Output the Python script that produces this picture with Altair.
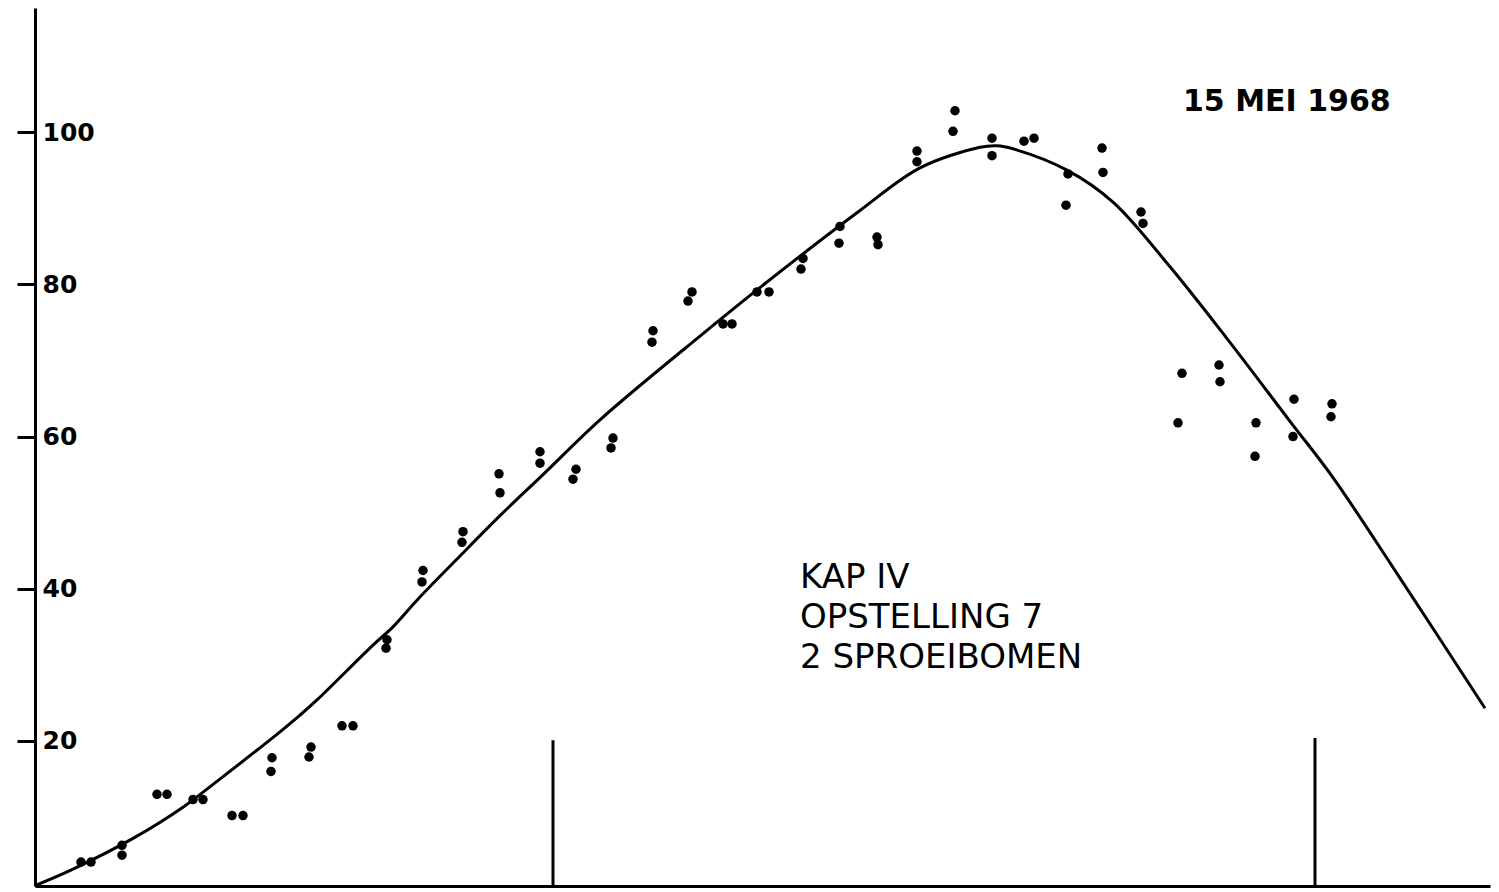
import altair as alt
import pandas as pd

# measured points (pairs of dots), x in arbitrary distance units, y in %
dot_x = [4.6, 5.6, 8.7, 8.7, 12.2, 13.2, 15.8, 16.8, 19.7, 20.8, 23.7, 23.6, 27.6, 27.4,
         30.7, 31.8, 35.2, 35.1, 38.8, 38.7, 42.8, 42.7, 46.4, 46.5, 50.5, 50.5, 54.1, 53.8,
         57.8, 57.6, 61.8, 61.7, 65.7, 65.3, 68.8, 69.7, 72.2, 73.4, 76.8, 76.6, 80.5, 80.4,
         84.2, 84.3, 88.2, 88.2, 92.0, 91.8, 95.7, 95.7, 98.9, 99.9, 103.3, 103.1, 106.7, 106.8,
         110.6, 110.8, 114.7, 114.3, 118.4, 118.5, 122.1, 122.0, 125.9, 125.8, 129.7, 129.6]
dot_y = [4.1, 4.1, 6.3, 5.0, 13.0, 13.0, 12.3, 12.3, 10.2, 10.2, 17.8, 16.0, 19.2, 17.9,
         22.0, 22.0, 33.3, 32.2, 42.4, 40.9, 47.5, 46.1, 55.1, 52.6, 58.0, 56.5, 55.7, 54.4,
         59.8, 58.5, 73.9, 72.4, 79.0, 77.8, 74.8, 74.8, 79.0, 79.0, 83.4, 82.0, 87.6, 85.4,
         86.2, 85.2, 97.5, 96.1, 102.8, 100.1, 99.2, 96.9, 98.8, 99.2, 94.5, 90.4, 97.9, 94.7,
         89.5, 88.0, 68.3, 61.8, 69.4, 67.2, 61.8, 57.4, 64.9, 60.0, 64.3, 62.6]

# hand-drawn fitted curve
curve_x = [0.0, 3.7, 9.8, 14.8, 18.0, 24.5, 26.5, 28.2, 33.8, 35.8, 38.2, 42.5, 46.5, 50.8,
           56.5, 66.5, 73.2, 82.5, 88.5, 94.5, 96.2, 97.8, 103.2, 107.8, 113.5, 119.3, 125.5,
           129.8, 136.5, 145.0]
curve_y = [1.0, 3.1, 7.2, 11.3, 14.5, 21.2, 23.4, 25.4, 32.6, 35.0, 38.5, 44.3, 49.6, 55.0,
           62.2, 73.2, 80.3, 89.7, 95.3, 98.0, 98.2, 97.8, 95.0, 90.8, 82.3, 72.7, 62.0,
           54.6, 41.4, 24.3]

# vertical marker lines (spray boom positions)
marker_x = [51.8, 128.0]
marker_top = [20.1, 20.4]

y_ticks = [20, 40, 60, 80, 100]

title_text = "15 MEI 1968"
note_lines = ["KAP IV", "OPSTELLING 7", "2 SPROEIBOMEN"]

FONT = "DejaVu Sans"
X_DOM = [0, 145.5]
Y_DOM = [0.95, 116.3]

xs = alt.Scale(domain=X_DOM, nice=False, zero=False)
ys = alt.Scale(domain=Y_DOM, nice=False, zero=False)

dots_df = pd.DataFrame({"x": dot_x, "y": dot_y})
curve_df = pd.DataFrame({"x": curve_x, "y": curve_y, "order": list(range(len(curve_x)))})
marker_df = pd.DataFrame({"x": marker_x, "y": [Y_DOM[0]] * len(marker_x), "y2": marker_top})

x_axis = alt.Axis(ticks=False, labels=False, title=None, grid=False,
                  domainColor="black", domainWidth=3)
y_axis = alt.Axis(values=y_ticks, title=None, grid=False, domainColor="black", domainWidth=3,
                  tickColor="black", tickWidth=3, tickSize=18, labelAlign="left",
                  labelPadding=-25, labelFontSize=25, labelFont=FONT, labelColor="black",
                  labelFontWeight="bold")

curve = alt.Chart(curve_df).mark_line(color="black", strokeWidth=3, interpolate="catmull-rom").encode(
    x=alt.X("x:Q", scale=xs, axis=x_axis),
    y=alt.Y("y:Q", scale=ys, axis=y_axis),
    order="order:Q",
)

dots = alt.Chart(dots_df).mark_circle(color="black", size=90, opacity=1).encode(
    x=alt.X("x:Q", scale=xs),
    y=alt.Y("y:Q", scale=ys),
)

markers = alt.Chart(marker_df).mark_rule(color="black", strokeWidth=3).encode(
    x=alt.X("x:Q", scale=xs),
    y=alt.Y("y:Q", scale=ys),
    y2="y2:Q",
)

title_df = pd.DataFrame({"x": [114.8], "y": [103.9], "t": [title_text]})
title = alt.Chart(title_df).mark_text(align="left", baseline="middle", font=FONT,
                                      fontSize=30, fontWeight="bold", color="black").encode(
    x=alt.X("x:Q", scale=xs), y=alt.Y("y:Q", scale=ys), text="t:N")

note_df = pd.DataFrame({"x": [76.5, 76.5, 76.5], "y": [41.4, 36.2, 30.9], "t": note_lines})
notes = alt.Chart(note_df).mark_text(align="left", baseline="middle", font=FONT,
                                     fontSize=34, color="black").encode(
    x=alt.X("x:Q", scale=xs), y=alt.Y("y:Q", scale=ys), text="t:N")

chart = alt.layer(curve, markers, dots, title, notes).properties(
    width=1455, height=878,
    autosize=alt.AutoSizeParams(type="none"),
    padding={"left": 27, "top": 0, "right": 1, "bottom": 2},
    background="white",
).configure_view(stroke=None)

chart.save("out.html", embed_options={"renderer": "svg", "actions": False})
